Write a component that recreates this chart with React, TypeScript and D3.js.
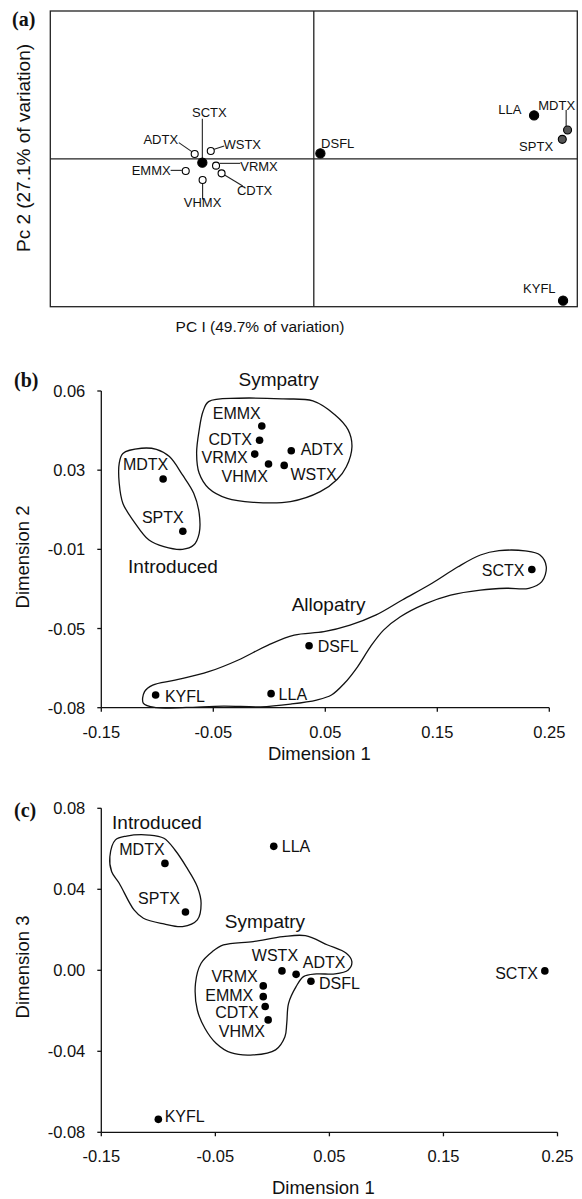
import * as d3 from "d3";

// ---------- panel (a): PCA scores ----------
const pcaSites = ["SCTX", "ADTX", "WSTX", "EMMX", "VRMX", "CDTX", "VHMX", "DSFL", "LLA", "MDTX", "SPTX", "KYFL"];
const pc1Scores = [-0.423, -0.452, -0.391, -0.486, -0.371, -0.35, -0.422, 0.025, 0.836, 0.963, 0.943, 0.946];
const pc2Scores = [-0.026, 0.033, 0.053, -0.082, -0.046, -0.098, -0.143, 0.037, 0.294, 0.195, 0.132, -0.959];
const pcaGroups = ["solid", "open", "open", "open", "open", "open", "open", "solid", "solid", "grey", "grey", "solid"];

// ---------- panel (b): MDS dimension 1 vs 2 ----------
const mdsSitesB = ["EMMX", "CDTX", "VRMX", "VHMX", "WSTX", "ADTX", "MDTX", "SPTX", "SCTX", "DSFL", "LLA", "KYFL"];
const dim1B = [-0.0067, -0.0087, -0.013, -0.0007, 0.0133, 0.0196, -0.0948, -0.0772, 0.2344, 0.0355, 0.0016, -0.1015];
const dim2B = [0.0445, 0.0382, 0.0321, 0.0277, 0.0271, 0.0336, 0.0211, -0.002, -0.0189, -0.0526, -0.0738, -0.0744];
const yTicksB = [0.06, 0.025, -0.01, -0.045, -0.08];
const yTickLabelsB = ["0.06", "0.03", "-0.01", "-0.05", "-0.08"];

// ---------- panel (c): MDS dimension 1 vs 3 ----------
const mdsSitesC = ["MDTX", "SPTX", "LLA", "WSTX", "ADTX", "DSFL", "VRMX", "EMMX", "CDTX", "VHMX", "SCTX", "KYFL"];
const dim1C = [-0.0942, -0.0762, 0.0012, 0.0084, 0.0208, 0.0338, -0.008, -0.008, -0.0063, -0.0037, 0.2389, -0.1];
const dim3C = [0.0528, 0.0288, 0.0612, -0.0003, -0.002, -0.0054, -0.0077, -0.013, -0.0179, -0.0245, -0.0003, -0.0736];
const yTicksC = [0.08, 0.04, 0, -0.04, -0.08];
const yTickLabelsC = ["0.08", "0.04", "0.00", "-0.04", "-0.08"];

const xTicks = [-0.15, -0.05, 0.05, 0.15, 0.25];
const xTickLabels = ["-0.15", "-0.05", "0.05", "0.15", "0.25"];

// hand-drawn group outlines (data units)
const sympatryB = [
  [-0.0542, 0.0553], [-0.0276, 0.0568], [0.0123, 0.0565], [0.0389, 0.0556], [0.0588, 0.0494],
  [0.0704, 0.0428], [0.0738, 0.0354], [0.0688, 0.0265], [0.0605, 0.0209], [0.0455, 0.0155],
  [0.0189, 0.0111], [-0.0143, 0.0108], [-0.0376, 0.0125], [-0.0542, 0.017], [-0.0626, 0.0236],
  [-0.0649, 0.0324], [-0.0626, 0.0428], [-0.0592, 0.0509],
];
const introducedB = [
  [-0.1307, 0.0324], [-0.1141, 0.0347], [-0.1008, 0.0342], [-0.0892, 0.031], [-0.0775, 0.0229],
  [-0.0675, 0.0148], [-0.0626, 0.0059], [-0.0626, -0.0029], [-0.0675, -0.0081], [-0.0775, -0.01],
  [-0.0941, -0.0088], [-0.1074, -0.0059], [-0.1207, 0.0022], [-0.1307, 0.0103], [-0.134, 0.0192],
  [-0.134, 0.028],
];
const allopatryB = [
  [-0.1124, -0.0781], [-0.1114, -0.0729], [-0.1041, -0.07], [-0.0842, -0.0678], [-0.0542, -0.0641],
  [-0.0276, -0.0589], [-0.001, -0.0523], [0.0222, -0.0479], [0.0488, -0.0464], [0.0721, -0.0435],
  [0.0954, -0.039], [0.1187, -0.0324], [0.1453, -0.025], [0.1685, -0.0177], [0.1885, -0.0125],
  [0.2051, -0.0106], [0.2284, -0.0107], [0.2417, -0.0125], [0.2473, -0.0177], [0.2433, -0.0243],
  [0.2317, -0.0272], [0.2118, -0.0272], [0.1885, -0.028], [0.1619, -0.0302], [0.1386, -0.0342],
  [0.117, -0.0398], [0.102, -0.0457], [0.0904, -0.053], [0.0788, -0.0619], [0.0671, -0.0692],
  [0.0555, -0.0744], [0.0422, -0.0766], [0.0189, -0.0784], [-0.0077, -0.0796], [-0.0409, -0.0793],
  [-0.0742, -0.0799], [-0.1008, -0.08],
];
const introducedC = [
  [-0.1376, 0.0644], [-0.1278, 0.0663], [-0.1082, 0.0668], [-0.0951, 0.0652], [-0.0854, 0.0594],
  [-0.0756, 0.0512], [-0.0658, 0.0413], [-0.0625, 0.0331], [-0.0658, 0.0249], [-0.0788, 0.0216],
  [-0.0951, 0.0229], [-0.1131, 0.0257], [-0.1213, 0.0298], [-0.1343, 0.043], [-0.1409, 0.0487],
  [-0.1425, 0.0561],
];
const sympatryC = [
  [-0.0429, 0.0125], [-0.0168, 0.0142], [0.0093, 0.0166], [0.0289, 0.0171], [0.0485, 0.0125],
  [0.0648, 0.0084], [0.0697, 0.0043], [0.0665, 0.0002], [0.055, -0.0018], [0.0387, -0.0018],
  [0.0273, -0.0031], [0.0208, -0.0081], [0.0142, -0.0163], [0.0126, -0.0262], [0.011, -0.0328],
  [0.0028, -0.0393], [-0.0168, -0.0418], [-0.0364, -0.0407], [-0.0494, -0.036], [-0.0592, -0.0286],
  [-0.0658, -0.0196], [-0.0674, -0.0064], [-0.0625, 0.0035], [-0.0527, 0.0092],
];

// label placement (pixel offsets from the dot)
const labelPosA = {
  SCTX: [7, -50, "middle"], ADTX: [-16.6, -14.6, "end"], WSTX: [12.7, -7, "start"],
  VRMX: [24.2, 0.4, "start"], EMMX: [-15.1, 0, "end"], CDTX: [15.3, 17.3, "start"],
  VHMX: [0, 22.4, "middle"], DSFL: [0.7, -10, "start"], LLA: [-12.7, -6, "end"],
  MDTX: [-29.3, -25, "start"], SPTX: [-9.2, 7.3, "end"], KYFL: [-7.5, -12.2, "end"],
};
const leadersA = {
  SCTX: [0, -44, 0, -3], ADTX: [-15.9, -11.3, -2.9, -2.3], WSTX: [3.4, -1.7, 13.4, -5],
  VRMX: [3.8, -2.3, 24.2, -2.3], EMMX: [-15.1, -0.6, -3.9, -0.6], CDTX: [3, 1.7, 21.2, 12.7],
  VHMX: [0, 3.4, 0, 19.4], MDTX: [-1.4, -20, -1.4, -4],
};
const labelPosB = {
  EMMX: [-25, -12.3, "middle"], CDTX: [-7.5, -1.3, "end"], VRMX: [-7, 3.7, "end"],
  VHMX: [-23.8, 12, "middle"], WSTX: [6.3, 9, "start"], ADTX: [9.4, -1.4, "start"],
  MDTX: [-17.5, -14.7, "middle"], SPTX: [-20, -14, "middle"], SCTX: [-7.4, 1, "end"],
  DSFL: [8.6, 1, "start"], LLA: [7.5, 1.3, "start"], KYFL: [9.3, 1.7, "start"],
};
const labelPosC = {
  MDTX: [-23, -13.6, "middle"], SPTX: [-26.5, -13.3, "middle"], LLA: [8, 0, "start"],
  WSTX: [-7, -15, "middle"], ADTX: [28, -11.6, "middle"], DSFL: [8, 2.4, "start"],
  VRMX: [-5.6, -9.3, "end"], EMMX: [-10, -0.7, "end"], CDTX: [-6.4, 5.6, "end"],
  VHMX: [-3.2, 11.7, "end"], SCTX: [-7, 2.3, "end"], KYFL: [6.3, -3.3, "start"],
};

const SANS = "'Liberation Sans', Arial, Helvetica, sans-serif";
const SERIF = "'Liberation Serif', 'Times New Roman', serif";

function PanelLetter({ x, y, text }) {
  return (
    <text x={x} y={y} fontFamily={SERIF} fontWeight="bold" fontSize={20} fill="#111">
      {text}
    </text>
  );
}

function PcaPanel() {
  const x = d3.scaleLinear().domain([-1, 1]).range([50.3, 577.3]);
  const y = d3.scaleLinear().domain([-1, 1]).range([306.7, 11]);
  const pts = pcaSites.map((site, i) => ({
    site,
    px: x(pc1Scores[i]),
    py: y(pc2Scores[i]),
    group: pcaGroups[i],
  }));

  return (
    <g>
      <PanelLetter x={12} y={26} text="(a)" />
      <rect x={x(-1)} y={y(1)} width={x(1) - x(-1)} height={y(-1) - y(1)} fill="none" stroke="#222" strokeWidth={1.3} />
      <line x1={x(0)} x2={x(0)} y1={y(1)} y2={y(-1)} stroke="#222" strokeWidth={1.3} />
      <line x1={x(-1)} x2={x(1)} y1={y(0)} y2={y(0)} stroke="#222" strokeWidth={1.3} />

      {pts.map((p) => {
        const ld = leadersA[p.site];
        return ld ? (
          <line
            key={`ld-${p.site}`}
            x1={p.px + ld[0]}
            y1={p.py + ld[1]}
            x2={p.px + ld[2]}
            y2={p.py + ld[3]}
            stroke="#222"
            strokeWidth={1.1}
          />
        ) : null;
      })}

      {pts.map((p) => {
        const r = p.group === "open" ? 3.5 : p.group === "grey" ? 4 : 4.6;
        const fill = p.group === "open" ? "#fff" : p.group === "grey" ? "#555" : "#000";
        return <circle key={p.site} cx={p.px} cy={p.py} r={r} fill={fill} stroke="#000" strokeWidth={1.1} />;
      })}

      {pts.map((p) => {
        const [dx, dy, anchor] = labelPosA[p.site];
        return (
          <text
            key={`lab-${p.site}`}
            x={p.px + dx}
            y={p.py + dy}
            textAnchor={anchor}
            dominantBaseline="central"
            fontFamily={SANS}
            fontSize={13}
            fill="#111"
          >
            {p.site}
          </text>
        );
      })}

      <text
        transform="translate(23, 148) rotate(-90)"
        textAnchor="middle"
        dominantBaseline="central"
        fontFamily={SANS}
        fontSize={19}
        fill="#111"
      >
        Pc 2 (27.1% of variation)
      </text>
      <text x={260} y={326} textAnchor="middle" dominantBaseline="central" fontFamily={SANS} fontSize={15.5} fill="#111">
        PC I (49.7% of variation)
      </text>
    </g>
  );
}

function MdsPanel({
  letter,
  letterY,
  sites,
  xs,
  ys,
  x,
  y,
  yTicks,
  yTickLabels,
  labelPos,
  hulls,
  regions,
  xTitleY,
  yTitle,
  yTitleY,
}) {
  const hullLine = d3
    .line()
    .x((d) => x(d[0]))
    .y((d) => y(d[1]))
    .curve(d3.curveCatmullRomClosed.alpha(0.5));
  const [x0, x1] = x.range();
  const [yBottom, yTop] = y.range();

  return (
    <g>
      <PanelLetter x={14} y={letterY} text={letter} />

      {hulls.map((h, i) => (
        <path key={`hull-${i}`} d={hullLine(h) ?? ""} fill="none" stroke="#111" strokeWidth={1.3} />
      ))}

      {/* axes */}
      <line x1={x0} x2={x0} y1={yTop} y2={yBottom} stroke="#111" strokeWidth={1.3} />
      <line x1={x0} x2={x1} y1={yBottom} y2={yBottom} stroke="#111" strokeWidth={1.3} />
      {yTicks.map((t, i) => (
        <g key={`yt-${t}`}>
          <line x1={x0 - 4} x2={x0} y1={y(t)} y2={y(t)} stroke="#111" strokeWidth={1.3} />
          <text
            x={x0 - 16}
            y={y(t)}
            textAnchor="end"
            dominantBaseline="central"
            fontFamily={SANS}
            fontSize={16.5}
            fill="#111"
          >
            {yTickLabels[i]}
          </text>
        </g>
      ))}
      {xTicks.map((t, i) => (
        <g key={`xt-${t}`}>
          <line x1={x(t)} x2={x(t)} y1={yBottom} y2={yBottom + 4} stroke="#111" strokeWidth={1.3} />
          <text
            x={x(t)}
            y={yBottom + 24}
            textAnchor="middle"
            dominantBaseline="central"
            fontFamily={SANS}
            fontSize={16.5}
            fill="#111"
          >
            {xTickLabels[i]}
          </text>
        </g>
      ))}

      {sites.map((site, i) => (
        <circle key={site} cx={x(xs[i])} cy={y(ys[i])} r={3.8} fill="#000" />
      ))}
      {sites.map((site, i) => {
        const [dx, dy, anchor] = labelPos[site];
        return (
          <text
            key={`lab-${site}`}
            x={x(xs[i]) + dx}
            y={y(ys[i]) + dy}
            textAnchor={anchor}
            dominantBaseline="central"
            fontFamily={SANS}
            fontSize={16}
            fill="#111"
          >
            {site}
          </text>
        );
      })}

      {regions.map((r) => (
        <text
          key={r.name}
          x={x(r.at[0])}
          y={y(r.at[1])}
          textAnchor="middle"
          dominantBaseline="central"
          fontFamily={SANS}
          fontSize={19}
          fill="#111"
        >
          {r.name}
        </text>
      ))}

      <text
        x={(x0 + x1) / 2 - 6}
        y={xTitleY}
        textAnchor="middle"
        dominantBaseline="central"
        fontFamily={SANS}
        fontSize={18.5}
        fill="#111"
      >
        Dimension 1
      </text>
      <text
        transform={`translate(22, ${yTitleY}) rotate(-90)`}
        textAnchor="middle"
        dominantBaseline="central"
        fontFamily={SANS}
        fontSize={18.5}
        fill="#111"
      >
        {yTitle}
      </text>
    </g>
  );
}

export default function App() {
  const xB = d3.scaleLinear().domain([-0.15, 0.25]).range([101.3, 549.3]);
  const yB = d3.scaleLinear().domain([-0.08, 0.06]).range([707.7, 391]);
  const xC = d3.scaleLinear().domain([-0.15, 0.25]).range([101.3, 557.5]);
  const yC = d3.scaleLinear().domain([-0.08, 0.08]).range([1132.3, 808.3]);

  return (
    <svg
      width={582}
      height={1199}
      style={{ position: "absolute", left: 0, top: 0, background: "#fff" }}
    >
      <rect width={582} height={1199} fill="#fff" />
      <PcaPanel />
      <MdsPanel
        letter="(b)"
        letterY={387}
        sites={mdsSitesB}
        xs={dim1B}
        ys={dim2B}
        x={xB}
        y={yB}
        yTicks={yTicksB}
        yTickLabels={yTickLabelsB}
        labelPos={labelPosB}
        hulls={[sympatryB, introducedB, allopatryB]}
        regions={[
          { name: "Sympatry", at: [0.0083, 0.0649] },
          { name: "Introduced", at: [-0.086, -0.0177] },
          { name: "Allopatry", at: [0.053, -0.0343] },
        ]}
        xTitleY={753}
        yTitle="Dimension 2"
        yTitleY={557}
      />
      <MdsPanel
        letter="(c)"
        letterY={817}
        sites={mdsSitesC}
        xs={dim1C}
        ys={dim3C}
        x={xC}
        y={yC}
        yTicks={yTicksC}
        yTickLabels={yTickLabelsC}
        labelPos={labelPosC}
        hulls={[introducedC, sympatryC]}
        regions={[
          { name: "Introduced", at: [-0.1012, 0.0732] },
          { name: "Sympatry", at: [-0.0065, 0.024] },
        ]}
        xTitleY={1187}
        yTitle="Dimension 3"
        yTitleY={967}
      />
    </svg>
  );
}
